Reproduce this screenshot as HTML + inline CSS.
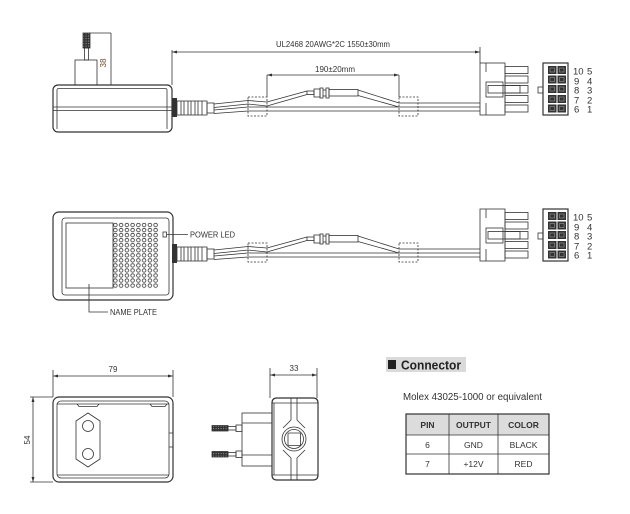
<!DOCTYPE html>
<html><head><meta charset="utf-8"><style>
html,body{margin:0;padding:0;background:#fff;}
svg{display:block;}
.l{fill:none;stroke:#333;stroke-width:0.8;}
.t{font-family:"Liberation Sans",Arial,sans-serif;fill:#333;}
</style></head><body>
<svg width="630" height="514" viewBox="0 0 630 514" xmlns="http://www.w3.org/2000/svg">
<defs>
<pattern id="dots" patternUnits="userSpaceOnUse" x="112.5" y="222.5" width="5.75" height="5.05">
<circle cx="2.87" cy="2.5" r="1.8" fill="none" stroke="#333" stroke-width="0.8"/>
</pattern>
<pattern id="knurl" patternUnits="userSpaceOnUse" width="2.5" height="2.5">
<rect width="2.5" height="2.5" fill="#333"/><rect x="0.6" y="0.6" width="1" height="1" fill="#999"/>
</pattern>
</defs>

<!-- ============ SECTION 1 ============ -->
<g class="l">
<rect x="83" y="33" width="7" height="15" fill="url(#knurl)"/>
<rect x="84.5" y="48" width="4" height="12"/>
<rect x="75" y="60" width="22" height="25"/>
<line x1="90" y1="33" x2="111" y2="33"/>
<line x1="111" y1="33" x2="111" y2="85"/>
<rect x="53" y="85" width="119" height="47" rx="5" stroke-width="1.2"/>
<path d="M57 129 V90 Q57 88.5 59 88.5 H165 Q167 88.5 167 90 V129"/>
<line x1="53" y1="107" x2="172" y2="107"/>
<line x1="53" y1="110.5" x2="172" y2="110.5"/>
<line x1="172" y1="50" x2="172" y2="85"/>
<line x1="172" y1="52" x2="480" y2="52"/>
<line x1="480" y1="47" x2="480" y2="63"/>
<line x1="267" y1="75" x2="399" y2="75"/>
<line x1="267" y1="75" x2="267" y2="97"/>
<line x1="399" y1="75" x2="399" y2="97"/>
</g>
<path d="M172 52 l5 -1.5 v3 z M480 52 l-5 -1.5 v3 z M267 75 l5 -1.5 v3 z M399 75 l-5 -1.5 v3 z" fill="#333"/>
<text class="t" x="101" y="58" font-size="8" text-anchor="middle" transform="rotate(-90 106 58)" style="fill:#6a4a2a">38</text>
<text class="t" x="333" y="47" font-size="8" text-anchor="middle" textLength="114" lengthAdjust="spacingAndGlyphs">UL2468 20AWG*2C 1550±30mm</text>
<text class="t" x="335" y="72" font-size="8" text-anchor="middle" textLength="40" lengthAdjust="spacingAndGlyphs">190±20mm</text>

<g class="l">
<rect x="172" y="98" width="5" height="19" fill="#333" stroke="none"/>
<rect x="177" y="101" width="30" height="14"/>
<path d="M181 101v14M184 101v14M188 101v14M191 101v14M195 101v14M198 101v14M202 101v14"/>
<rect x="207" y="103" width="7" height="10"/>
<polyline points="214,104 248,100.5 267,102 307,91"/>
<polyline points="214,107.5 248,104 267,106 307,94.5"/>
<polyline points="214,110 248,107 480,107"/>
<polyline points="214,113.5 248,111 480,111"/>
<polyline points="358,90 399,103 480,103"/>
<polyline points="358,95.5 399,107"/>
<rect x="307" y="91" width="7" height="3.5"/>
<rect x="314" y="89" width="6" height="8"/>
<rect x="320" y="88" width="3" height="10"/>
<rect x="326" y="88" width="3" height="10"/>
<line x1="323" y1="90" x2="326" y2="90"/><line x1="323" y1="96" x2="326" y2="96"/>
<rect x="329" y="89.5" width="29" height="6.5"/>
<rect x="248" y="97" width="19" height="19" stroke-dasharray="2,1.5"/>
<rect x="399" y="97" width="19" height="19" stroke-dasharray="2,1.5"/>
<rect x="480" y="63" width="25" height="52" fill="#fff"/>
<path d="M486 63 V72 M486 103 V115"/>
<rect x="505" y="66.5" width="23" height="7"/>
<rect x="505" y="76" width="23" height="7"/>
<rect x="505" y="95.5" width="23" height="7"/>
<rect x="505" y="105" width="23" height="7"/>
<rect x="486" y="82" width="17" height="15"/>
<rect x="488" y="85.5" width="32" height="7.5"/>
<rect x="505" y="85.5" width="23" height="7.5"/>
<rect x="543" y="63" width="25" height="52" stroke-width="1.2"/>
<rect x="538" y="87" width="5" height="6"/>
</g>
<g fill="#333">
<rect x="548" y="66" width="8.5" height="8"/><rect x="557.5" y="66" width="8.5" height="8"/>
<rect x="548" y="75.5" width="8.5" height="8"/><rect x="557.5" y="75.5" width="8.5" height="8"/>
<rect x="548" y="85" width="8.5" height="8"/><rect x="557.5" y="85" width="8.5" height="8"/>
<rect x="548" y="95" width="8.5" height="8"/><rect x="557.5" y="95" width="8.5" height="8"/>
<rect x="548" y="104.5" width="8.5" height="8"/><rect x="557.5" y="104.5" width="8.5" height="8"/>
</g>
<g fill="none" stroke="#999" stroke-width="0.6">
<rect x="550" y="68" width="4.5" height="4"/><rect x="559.5" y="68" width="4.5" height="4"/>
<rect x="550" y="77.5" width="4.5" height="4"/><rect x="559.5" y="77.5" width="4.5" height="4"/>
<rect x="550" y="87" width="4.5" height="4"/><rect x="559.5" y="87" width="4.5" height="4"/>
<rect x="550" y="97" width="4.5" height="4"/><rect x="559.5" y="97" width="4.5" height="4"/>
<rect x="550" y="106.5" width="4.5" height="4"/><rect x="559.5" y="106.5" width="4.5" height="4"/>
</g>
<g class="t" font-size="9.5">
<text x="573" y="74.5">10</text><text x="587" y="74.5">5</text>
<text x="574" y="84.5">9</text><text x="587" y="84.5">4</text>
<text x="574" y="93.5">8</text><text x="587" y="93.5">3</text>
<text x="574" y="103.5">7</text><text x="587" y="103.5">2</text>
<text x="574" y="112.5">6</text><text x="587" y="112.5">1</text>
</g>

<!-- ============ SECTION 2 ============ -->
<g class="l">
<rect x="53" y="212" width="120" height="88" rx="6" stroke-width="1.2"/>
<rect x="62" y="218" width="107" height="77" rx="3"/>
<rect x="66" y="223" width="47" height="65"/>
<rect x="112.5" y="222.5" width="46" height="66" fill="url(#dots)" stroke="none"/>
<rect x="163" y="232" width="3.5" height="5"/>
<line x1="167" y1="234.5" x2="188" y2="234.5"/>
<polyline points="89,284 89,312 108,312"/>
</g>
<text class="t" x="190" y="237.5" font-size="8" textLength="45" lengthAdjust="spacingAndGlyphs">POWER LED</text>
<text class="t" x="110" y="315" font-size="8" textLength="47" lengthAdjust="spacingAndGlyphs">NAME PLATE</text>

<g transform="translate(0,146)">
<g class="l">
<rect x="172" y="98" width="5" height="19" fill="#333" stroke="none"/>
<rect x="177" y="101" width="30" height="14"/>
<path d="M181 101v14M184 101v14M188 101v14M191 101v14M195 101v14M198 101v14M202 101v14"/>
<rect x="207" y="103" width="7" height="10"/>
<polyline points="214,104 248,100.5 267,102 307,91"/>
<polyline points="214,107.5 248,104 267,106 307,94.5"/>
<polyline points="214,110 248,107 480,107"/>
<polyline points="214,113.5 248,111 480,111"/>
<polyline points="358,90 399,103 480,103"/>
<polyline points="358,95.5 399,107"/>
<rect x="307" y="91" width="7" height="3.5"/>
<rect x="314" y="89" width="6" height="8"/>
<rect x="320" y="88" width="3" height="10"/>
<rect x="326" y="88" width="3" height="10"/>
<line x1="323" y1="90" x2="326" y2="90"/><line x1="323" y1="96" x2="326" y2="96"/>
<rect x="329" y="89.5" width="29" height="6.5"/>
<rect x="248" y="97" width="19" height="19" stroke-dasharray="2,1.5"/>
<rect x="399" y="97" width="19" height="19" stroke-dasharray="2,1.5"/>
<rect x="480" y="63" width="25" height="52" fill="#fff"/>
<path d="M486 63 V72 M486 103 V115"/>
<rect x="505" y="66.5" width="23" height="7"/>
<rect x="505" y="76" width="23" height="7"/>
<rect x="505" y="95.5" width="23" height="7"/>
<rect x="505" y="105" width="23" height="7"/>
<rect x="486" y="82" width="17" height="15"/>
<rect x="488" y="85.5" width="32" height="7.5"/>
<rect x="505" y="85.5" width="23" height="7.5"/>
<rect x="543" y="63" width="25" height="52" stroke-width="1.2"/>
<rect x="538" y="87" width="5" height="6"/>
</g>
<g fill="#333">
<rect x="548" y="66" width="8.5" height="8"/><rect x="557.5" y="66" width="8.5" height="8"/>
<rect x="548" y="75.5" width="8.5" height="8"/><rect x="557.5" y="75.5" width="8.5" height="8"/>
<rect x="548" y="85" width="8.5" height="8"/><rect x="557.5" y="85" width="8.5" height="8"/>
<rect x="548" y="95" width="8.5" height="8"/><rect x="557.5" y="95" width="8.5" height="8"/>
<rect x="548" y="104.5" width="8.5" height="8"/><rect x="557.5" y="104.5" width="8.5" height="8"/>
</g>
<g fill="none" stroke="#999" stroke-width="0.6">
<rect x="550" y="68" width="4.5" height="4"/><rect x="559.5" y="68" width="4.5" height="4"/>
<rect x="550" y="77.5" width="4.5" height="4"/><rect x="559.5" y="77.5" width="4.5" height="4"/>
<rect x="550" y="87" width="4.5" height="4"/><rect x="559.5" y="87" width="4.5" height="4"/>
<rect x="550" y="97" width="4.5" height="4"/><rect x="559.5" y="97" width="4.5" height="4"/>
<rect x="550" y="106.5" width="4.5" height="4"/><rect x="559.5" y="106.5" width="4.5" height="4"/>
</g>
<g class="t" font-size="9.5">
<text x="573" y="74.5">10</text><text x="587" y="74.5">5</text>
<text x="574" y="84.5">9</text><text x="587" y="84.5">4</text>
<text x="574" y="93.5">8</text><text x="587" y="93.5">3</text>
<text x="574" y="103.5">7</text><text x="587" y="103.5">2</text>
<text x="574" y="112.5">6</text><text x="587" y="112.5">1</text>
</g>
</g>

<!-- ============ SECTION 3: front view ============ -->
<g class="l">
<line x1="53" y1="370" x2="53" y2="397"/>
<line x1="173" y1="370" x2="173" y2="397"/>
<line x1="53" y1="376" x2="173" y2="376"/>
<line x1="30" y1="397" x2="53" y2="397"/>
<line x1="30" y1="482" x2="53" y2="482"/>
<line x1="33" y1="397" x2="33" y2="482"/>
<rect x="53" y="397" width="120" height="85" rx="6" stroke-width="1.2"/>
<rect x="57" y="401" width="112" height="77" rx="4"/>
<line x1="57" y1="404" x2="169" y2="404"/>
<line x1="57" y1="475" x2="169" y2="475"/>
<path d="M77 404 L79 406.5 H97 L99 404 M150 404 L152 406.5 H165 L167 404"/>
<path d="M169 433 h4 M169 447 h4"/>
<path d="M88 413 L100 421 V459 L88 467 L76 459 V421 Z"/>
<circle cx="88" cy="426" r="5.5"/>
<circle cx="88" cy="454" r="5.5"/>
</g>
<path d="M53 376 l5 -1.5 v3 z M173 376 l-5 -1.5 v3 z M33 397 l-1.5 5 h3 z M33 482 l-1.5 -5 h3 z" fill="#333"/>
<text class="t" x="113" y="372" font-size="8" text-anchor="middle">79</text>
<text class="t" x="27" y="443" font-size="8" text-anchor="middle" transform="rotate(-90 27 440)">54</text>

<!-- side view -->
<g class="l">
<line x1="270" y1="368" x2="270" y2="398"/>
<line x1="317" y1="368" x2="317" y2="398"/>
<line x1="270" y1="375" x2="317" y2="375"/>
<rect x="212" y="425.5" width="16" height="5.5" fill="url(#knurl)"/>
<rect x="212" y="451.5" width="16" height="5.5" fill="url(#knurl)"/>
<rect x="228" y="426.5" width="8" height="3.5"/>
<rect x="228" y="452.5" width="8" height="3.5"/>
<rect x="236" y="425" width="6" height="6.5"/>
<rect x="236" y="451" width="6" height="6.5"/>
<rect x="242" y="413" width="30" height="53"/>
<line x1="242" y1="423" x2="272" y2="423"/>
<line x1="242" y1="455" x2="272" y2="455"/>
<path d="M272 403 Q272 398 277 398 H313 Q318 398 318 403 V475 Q318 480 313 480 H277 Q272 480 272 475 Z" fill="#fff" stroke-width="1.2"/>
<path d="M272 403 H318 M272 475 H318"/>
<path d="M274 403 V475"/>
<path d="M291 398 V420 L283 428 M297 398 V420 L305 428"/>
<path d="M291 480 V458 L283 450 M297 480 V458 L305 450"/>
<circle cx="294" cy="439" r="12"/>
<circle cx="294" cy="439" r="9.5"/>
<rect x="288" y="433" width="12.5" height="12.5" rx="1"/>
</g>
<path d="M270 375 l5 -1.5 v3 z M317 375 l-5 -1.5 v3 z" fill="#333"/>
<text class="t" x="294" y="371" font-size="8" text-anchor="middle">33</text>

<!-- ============ Connector table ============ -->
<rect x="386" y="357" width="80" height="15" fill="#dadada"/>
<rect x="388" y="360" width="8" height="9" fill="#222"/>
<text class="t" x="401" y="369.5" font-size="12.5" font-weight="bold" textLength="60" lengthAdjust="spacingAndGlyphs" style="fill:#222">Connector</text>
<text class="t" x="403" y="400" font-size="10" textLength="139" lengthAdjust="spacingAndGlyphs">Molex 43025-1000 or equivalent</text>
<rect x="406" y="414" width="143" height="21" fill="#dcdcdc"/>
<g class="l" stroke="#444">
<rect x="406" y="414" width="143" height="60" stroke-width="1.2"/>
<line x1="406" y1="435" x2="549" y2="435"/>
<line x1="406" y1="454" x2="549" y2="454"/>
<line x1="449" y1="414" x2="449" y2="474"/>
<line x1="498" y1="414" x2="498" y2="474"/>
</g>
<g class="t" font-size="8.5" text-anchor="middle">
<text x="427.5" y="428" font-weight="bold">PIN</text>
<text x="473.5" y="428" font-weight="bold">OUTPUT</text>
<text x="523.5" y="428" font-weight="bold">COLOR</text>
<text x="427.5" y="448">6</text>
<text x="473.5" y="448">GND</text>
<text x="523.5" y="448">BLACK</text>
<text x="427.5" y="467">7</text>
<text x="473.5" y="467">+12V</text>
<text x="523.5" y="467">RED</text>
</g>
</svg>
</body></html>
